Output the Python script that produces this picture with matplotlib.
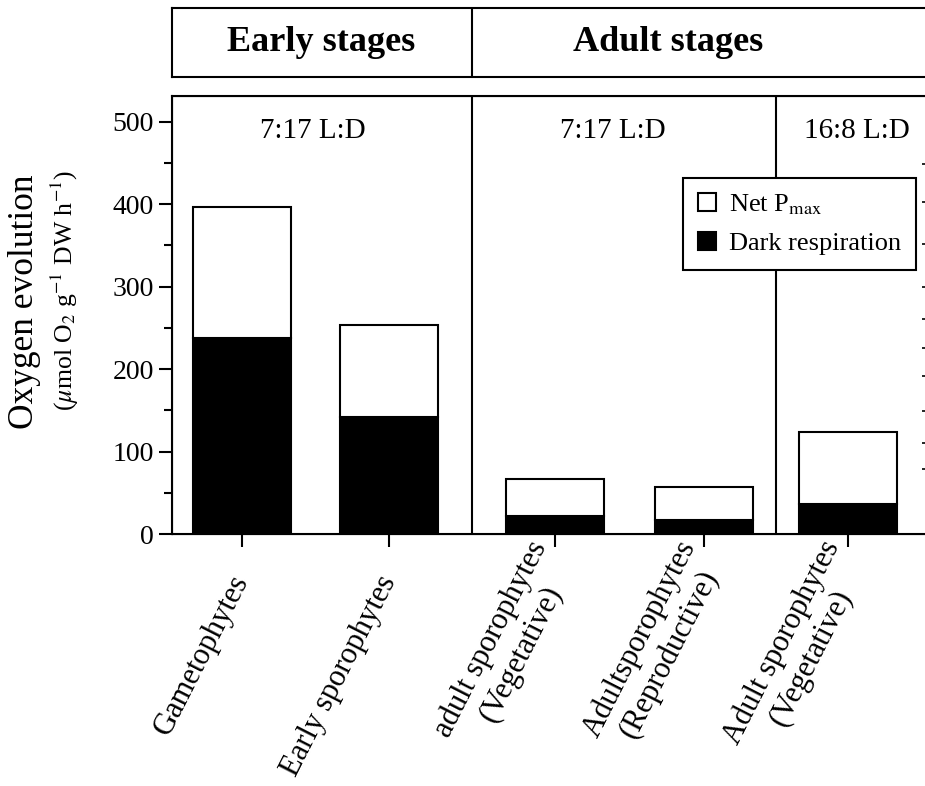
import numpy as np
import matplotlib.pyplot as plt
from matplotlib.transforms import ScaledTranslation

plt.rcParams['font.family'] = ['Liberation Serif', 'DejaVu Serif']
plt.rcParams['mathtext.fontset'] = 'stix'

#%% data
groups = ['Gametophytes', 'Early sporophytes', 'adult sporophytes\n(Vegetative)',
          'Adultsporophytes\n(Reproductive)', 'Adult sporophytes\n(Vegetative)']
xpos = [1.0, 2.0, 3.13, 4.14, 5.12]
dark_resp = np.array([238, 142, 22, 17, 36])
net_pmax = np.array([158, 111, 45, 40, 88])

photoperiods = ['7:17 L:D', '7:17 L:D', '16:8 L:D']
photo_x = [1.48, 3.52, 5.18]
stage_names = ['Early stages', 'Adult stages']
stage_x = [1.54, 3.90]
separators = [2.565, 4.633]
right_ticks = [448, 403, 352, 299, 261, 226, 191, 149, 110, 79]

#%%
fig = plt.figure(figsize=(9.25, 7.86), dpi=100)
ax = fig.add_axes([0.186, 0.3206, 0.8195, 0.5573])
lw = 1.5

ax.bar(xpos, dark_resp, width=0.667, color='black', edgecolor='black',
       linewidth=lw, label='Dark respiration', zorder=2)
ax.bar(xpos, net_pmax, bottom=dark_resp, width=0.667, color='white',
       edgecolor='black', linewidth=lw, label='Net P$_{\\mathrm{max}}$', zorder=2)
for s in separators:
    ax.axvline(s, color='black', lw=lw, zorder=1)

ax.set_xlim(0.524, 5.68)
ax.set_ylim(0, 531)
ax.set_yticks(np.arange(0, 501, 100))
ax.set_yticks(np.arange(50, 501, 100), minor=True)
ax.tick_params(axis='y', which='major', direction='out', length=9.5, width=lw,
               labelsize=20, right=False)
ax.tick_params(axis='y', which='minor', direction='out', length=5.5, width=lw)
ax.set_xticks(xpos)
ax.set_xticklabels(groups, rotation=63, ha='right', va='center',
                   rotation_mode='anchor', multialignment='center')
ax.tick_params(axis='x', direction='out', length=9, width=lw, labelsize=22, pad=22)
# two-line labels sit a bit higher
for lab in ax.get_xticklabels():
    if '\n' in lab.get_text():
        lab.set_transform(lab.get_transform()
                          + ScaledTranslation(0, 0.27, fig.dpi_scale_trans))
for sp in ax.spines.values():
    sp.set_linewidth(lw)

# ticks on the right spine (cut off at the edge)
ax2 = ax.twinx()
ax2.set_ylim(ax.get_ylim())
ax2.set_yticks(right_ticks)
ax2.set_yticklabels([])
ax2.tick_params(axis='y', direction='in', length=6, width=1.2)
ax2.spines['right'].set_linewidth(lw)

for t, xx in zip(photoperiods, photo_x):
    ax.text(xx, 489, t, ha='center', va='center', fontsize=21)

h, l = ax.get_legend_handles_labels()
leg = ax.legend(h[::-1], l[::-1], loc='upper right', bbox_to_anchor=(0.9815, 0.8128),
                borderaxespad=0, fontsize=19, fancybox=False, edgecolor='black',
                framealpha=1, handlelength=0.7, handleheight=0.7, handletextpad=0.5,
                labelspacing=0.55, borderpad=0.55)
leg.get_frame().set_linewidth(lw)
leg.set_zorder(5)

# header box
hax = fig.add_axes([0.186, 0.902, 0.8195, 0.088])
hax.set_xlim(ax.get_xlim())
hax.set_ylim(0, 1)
hax.set_xticks([])
hax.set_yticks([])
for sp in hax.spines.values():
    sp.set_linewidth(lw)
hax.axvline(separators[0], color='black', lw=lw)
for t, xx in zip(stage_names, stage_x):
    hax.text(xx, 0.5, t, ha='center', va='center', fontsize=26, fontweight='bold')

fig.text(0.027, 0.616, 'Oxygen evolution', rotation=90, ha='center', va='center',
         fontsize=25.5)
fig.text(0.070, 0.63, '($\\mu$mol O$_2$ g$^{-1}$ DW h$^{-1}$)', rotation=90,
         ha='center', va='center', fontsize=18.5)

plt.savefig('out.png', dpi=100)
